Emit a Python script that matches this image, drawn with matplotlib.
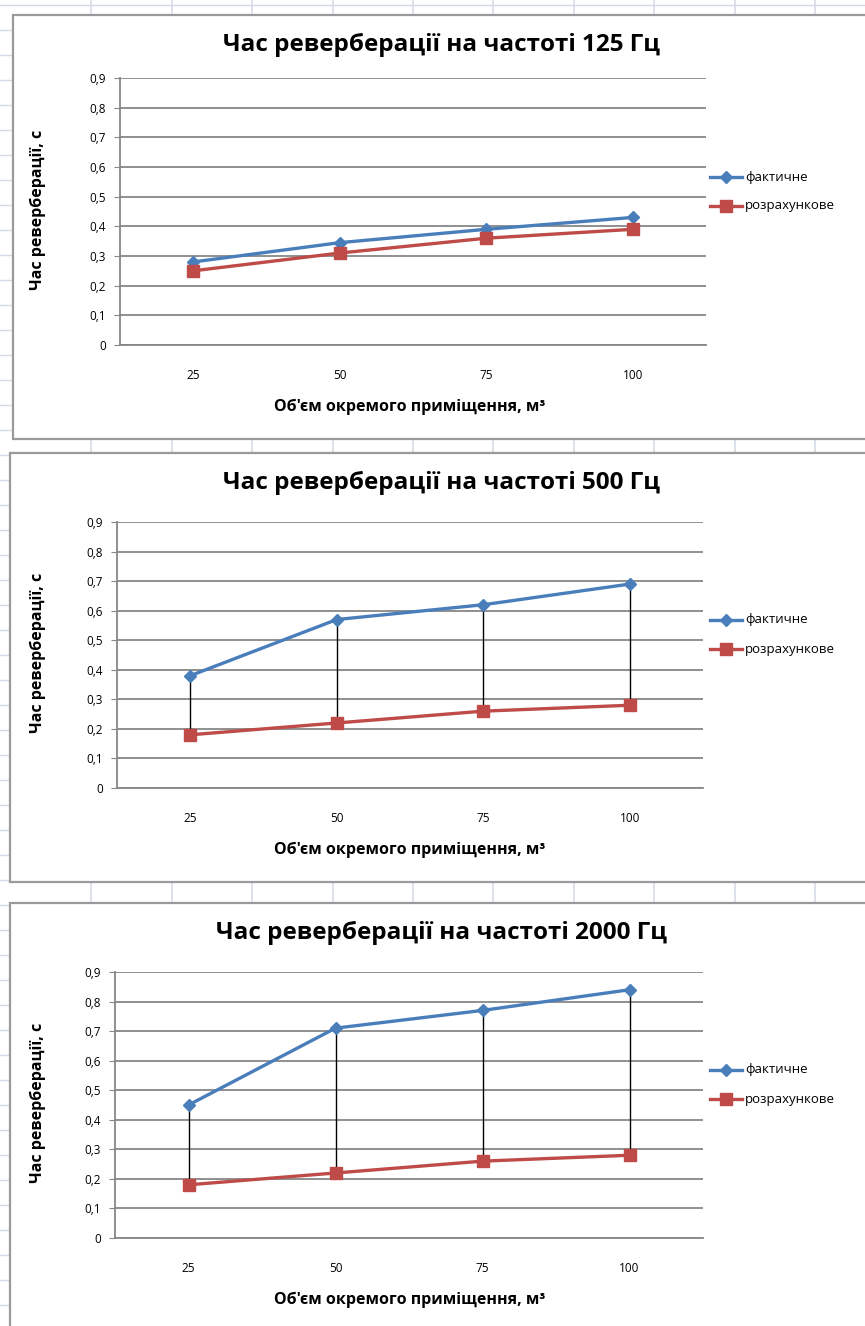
import matplotlib
matplotlib.use("Agg")
import matplotlib.pyplot as plt
from matplotlib import font_manager
from matplotlib.patches import Rectangle
from matplotlib.lines import Line2D

# ---------------- data ----------------
volumes = ["25", "50", "75", "100"]
freq_labels = ["125", "500", "2000"]
actual_125 = [0.28, 0.345, 0.39, 0.43]
calc_125 = [0.25, 0.31, 0.36, 0.39]
actual_500 = [0.38, 0.57, 0.62, 0.69]
calc_500 = [0.18, 0.22, 0.26, 0.28]
actual_2000 = [0.45, 0.71, 0.77, 0.84]
calc_2000 = [0.18, 0.22, 0.26, 0.28]
yticks = [0, 0.1, 0.2, 0.3, 0.4, 0.5, 0.6, 0.7, 0.8, 0.9]
ytick_labels = ["0", "0,1", "0,2", "0,3", "0,4", "0,5", "0,6", "0,7", "0,8", "0,9"]
series_names = ["фактичне", "розрахункове"]
title_tpl = "Час реверберації на частоті {} Гц"
ylabel = "Час реверберації, с"
xlabel = "Об'єм окремого приміщення, м³"

actual_all = [actual_125, actual_500, actual_2000]
calc_all = [calc_125, calc_500, calc_2000]

# ---------------- fonts ----------------
avail = {f.name for f in font_manager.fontManager.ttflist}
fam = None
for cand in ["Liberation Sans Narrow", "Open Sans", "Noto Sans", "DejaVu Sans"]:
    if cand in avail:
        fam = cand
        break
plt.rcParams["font.family"] = [fam, "DejaVu Sans"]

W, H = 865, 1326
fig = plt.figure(figsize=(W / 100, H / 100), dpi=100)

def fx(px):
    return px / W

def fy(py):
    return 1 - py / H

# ---------------- spreadsheet background ----------------
bg = fig.add_axes([0, 0, 1, 1])
bg.set_xlim(0, W)
bg.set_ylim(H, 0)
bg.axis("off")
grid_c = "#d5dbe6"
col_x = [91, 172, 252, 333, 413, 493, 574, 654, 735, 815]
for x in col_x:
    bg.plot([x, x], [0, H], color=grid_c, lw=1.2, zorder=0)
for y in range(5, H, 25):
    bg.plot([0, W], [y, y], color=grid_c, lw=1.0, zorder=0)

# chart boxes: (left, top, bottom)
boxes = [(13, 15, 439), (10, 453, 882), (10, 903, 1340)]
for (l, t, b) in boxes:
    bg.add_patch(Rectangle((l, t), W + 20 - l, b - t, facecolor="white",
                           edgecolor="#9a9a9a", lw=1.6, zorder=1))

# plot areas: (left, right, top(0.9), bottom(0))
areas = [(120, 706, 78, 345), (117, 703, 522, 788), (115, 703, 972, 1238)]

blue = "#4a7ebb"
red = "#be4b48"
grid_gray = "#878787"

for i in range(3):
    l, r, t, b = areas[i]
    ymax = 0.9
    ax = fig.add_axes([fx(l), fy(b), fx(r - l), (b - t) / H])
    ax.set_ylim(0, ymax)
    ax.set_xlim(-0.5, len(volumes) - 0.5)
    ax.set_facecolor("none")
    xs = list(range(len(volumes)))
    ax.set_yticks(yticks)
    ax.set_yticklabels(ytick_labels)
    ax.set_xticks(xs)
    ax.set_xticklabels(volumes)
    ax.yaxis.grid(True, color=grid_gray, lw=1.3)
    ax.set_axisbelow(True)
    for s in ["top", "right"]:
        ax.spines[s].set_visible(False)
    ax.spines["left"].set_color(grid_gray)
    ax.spines["bottom"].set_color(grid_gray)
    ax.spines["left"].set_linewidth(1.3)
    ax.spines["bottom"].set_linewidth(1.3)
    ax.tick_params(axis="y", length=4, color=grid_gray, labelsize=8.5, pad=6)
    ax.tick_params(axis="x", length=0, labelsize=8.5, pad=17)

    a = actual_all[i]
    c = calc_all[i]
    ax.vlines(xs, c, a, colors="black", lw=1.0, zorder=3)
    ax.plot(xs, a, color=blue, lw=2.4, marker="D", ms=6.5, mfc=blue, mec=blue,
            zorder=4, clip_on=False)
    ax.plot(xs, c, color=red, lw=2.4, marker="s", ms=8.5, mfc=red, mec=red,
            zorder=4, clip_on=False)

    top_box = boxes[i][1]
    mid_y = (t + b) / 2
    fig.text(fx(442), fy(top_box + 30), title_tpl.format(freq_labels[i]),
             ha="center", va="center", fontsize=17.5, fontweight="bold")
    fig.text(fx(38), fy(mid_y - 2), ylabel, ha="center", va="center",
             rotation=90, fontsize=11.5, fontweight="bold")
    fig.text(fx(410), fy(b + 62), xlabel, ha="center", va="center",
             fontsize=11.5, fontweight="bold")

    # legend (manual)
    ly1 = top_box + 162 if i == 0 else top_box + 167
    ly2 = ly1 + 29
    for ly, col, mk, ms, name in [(ly1, blue, "D", 6.5, series_names[0]),
                                  (ly2, red, "s", 8.5, series_names[1])]:
        bg.add_line(Line2D([710, 742], [ly, ly], color=col, lw=2.4, zorder=5))
        bg.add_line(Line2D([726], [ly], color=col, marker=mk, ms=ms,
                           mfc=col, mec=col, zorder=6))
        bg.text(745, ly, name, ha="left", va="center", fontsize=9.5, zorder=6)

fig.savefig("out.png", dpi=100)
